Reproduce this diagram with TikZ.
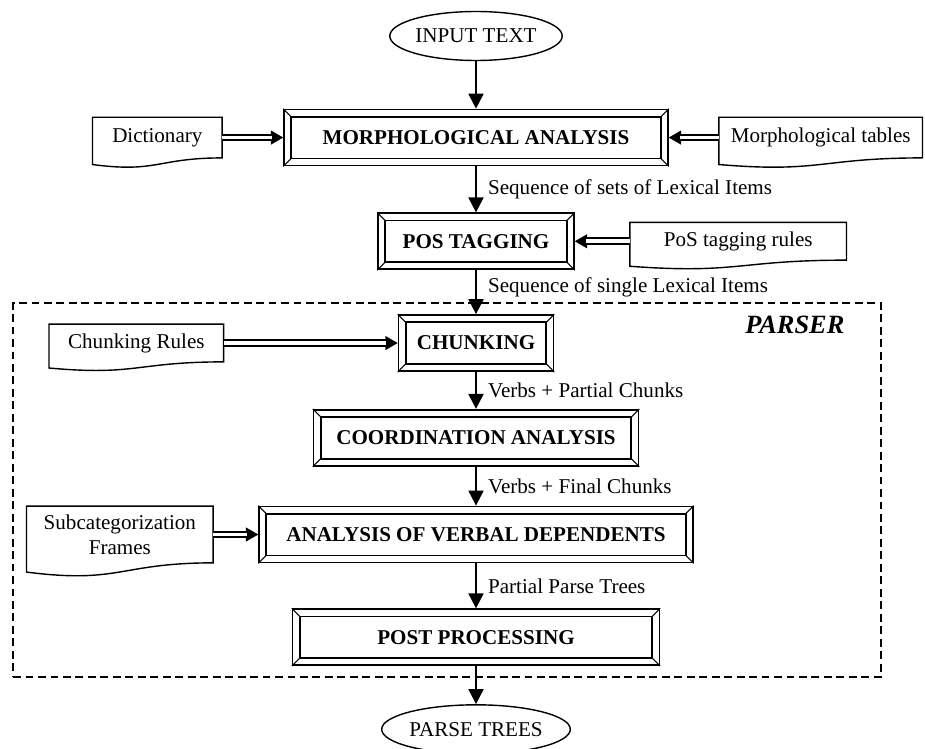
\documentclass[tikz,border=0pt]{standalone}
\usepackage{fontspec}
\setmainfont{Liberation Serif}
\usetikzlibrary{positioning, shapes.geometric, arrows.meta, calc}

\begin{document}
\begin{tikzpicture}[x=0.02cm, y=-0.02cm, font=\fontsize{12pt}{14pt}\selectfont]

        % Define block styles
        \tikzstyle{terminal} = [ellipse, draw, line width=0.8pt, minimum width=3.45cm, minimum height=0.98cm, inner sep=0pt]
        \tikzstyle{stage} = [rectangle, draw, line width=1pt, font=\fontsize{12pt}{14pt}\selectfont\bfseries, minimum height=1.12cm, inner sep=0pt]
        \tikzstyle{bevel} = [line width=0.6pt]
        \tikzstyle{resource} = [rectangle, align=center, inner sep=0pt]
        \tikzstyle{docline} = [line width=0.8pt]
        \tikzstyle{flow} = [line width=1.1pt, -{Triangle[length=8.5pt,width=8.5pt]}]
        \tikzstyle{feed} = [double, double distance=2.2pt, line width=1.1pt, shorten >=6.5pt]
        \tikzstyle{feedtip} = [line width=0.2pt, -{Triangle[length=7pt,width=8pt]}]
        \tikzstyle{frame} = [draw, line width=0.9pt, dash pattern=on 4.5pt off 2.6pt, minimum width=17.36cm, minimum height=7.48cm, inner sep=0pt]

        \useasboundingbox (0,0) rectangle (925,749);

        % Parser frame
        \node (parser) [frame] at (447,490) {};
        \node (parsertag) [font=\fontsize{15pt}{17pt}\selectfont\bfseries\itshape, anchor=east, inner sep=0pt] at ([shift={(-37,23)}]parser.north east) {PARSER};

        % Components
        \node (input) [terminal] at (476,36) {INPUT TEXT};
        \node (morph) [stage, minimum width=7.68cm, below=0.95cm of input] {MORPHOLOGICAL ANALYSIS};
        \node (pos) [stage, minimum width=3.92cm, below=0.92cm of morph] {POS TAGGING};
        \node (chunk) [stage, minimum width=3.1cm, below=0.88cm of pos] {CHUNKING};
        \node (coord) [stage, minimum width=6.5cm, below=0.74cm of chunk] {COORDINATION ANALYSIS};
        \node (verbal) [stage, minimum width=8.68cm, below=0.78cm of coord] {ANALYSIS OF VERBAL DEPENDENTS};
        \node (post) [stage, minimum width=7.34cm, below=0.9cm of verbal] {POST PROCESSING};
        \node (output) [terminal, below=0.76cm of post] {PARSE TREES};

        % Resources
        \node (dict) [resource, minimum width=2.58cm, minimum height=0.8cm, left=1.22cm of morph] {Dictionary};
        \node (mtables) [resource, minimum width=4.06cm, minimum height=0.8cm, right=1.0cm of morph] {Morphological tables};
        \node (posrules) [resource, minimum width=4.32cm, minimum height=0.74cm, right=1.1cm of pos] {PoS tagging rules};
        \node (chunkrules) [resource, minimum width=3.48cm, minimum height=0.74cm, left=3.48cm of chunk] {Chunking Rules};
        \node (subcat) [resource, minimum width=3.72cm, minimum height=1.12cm, left=0.9cm of verbal] {Subcategorization\\Frames};

        % Bevelled edges
        \foreach \stg in {morph, pos, chunk, coord, verbal, post} {
          \draw [line width=1pt] ([shift={(8,8)}]\stg.north west) rectangle ([shift={(-8,-8)}]\stg.south east);
          \draw [bevel] (\stg.north west) -- ([shift={(8,8)}]\stg.north west);
          \draw [bevel] (\stg.north east) -- ([shift={(-8,8)}]\stg.north east);
          \draw [bevel] (\stg.south west) -- ([shift={(8,-8)}]\stg.south west);
          \draw [bevel] (\stg.south east) -- ([shift={(-8,-8)}]\stg.south east);
        }

        % Wavy document outlines
        \foreach \res in {dict, mtables, posrules, chunkrules, subcat} {
          \draw [docline] let \p1=(\res.north west), \p2=(\res.south east) in
            (\p1) -- (\x2,\y1) -- (\p2)
            .. controls ({0.5*\x1+0.5*\x2},\y2) and ({0.5*\x1+0.5*\x2},{1.375*\y2-0.375*\y1}) ..
            (\x1,{1.1625*\y2-0.1625*\y1}) -- cycle;
        }

        % Arrows
        \draw [flow] (input) -- (morph);
        \draw [flow] (morph) -- node [right, xshift=3pt] {Sequence of sets of Lexical Items} (pos);
        \draw [flow] (pos) -- node [right, xshift=3pt, pos=0.38] {Sequence of single Lexical Items} (chunk);
        \draw [flow] (chunk) -- node [right, xshift=3pt] {Verbs + Partial Chunks} (coord);
        \draw [flow] (coord) -- node [right, xshift=3pt] {Verbs + Final Chunks} (verbal);
        \draw [flow] (verbal) -- node [right, xshift=3pt] {Partial Parse Trees} (post);
        \draw [flow] (post) -- (output);

        \foreach \src/\dst in {dict/morph, mtables/morph, posrules/pos, chunkrules/chunk, subcat/verbal} {
          \draw [feedtip] (\src) -- (\dst);
          \draw [feed] (\src) -- (\dst);
        }

\end{tikzpicture}
\end{document}
